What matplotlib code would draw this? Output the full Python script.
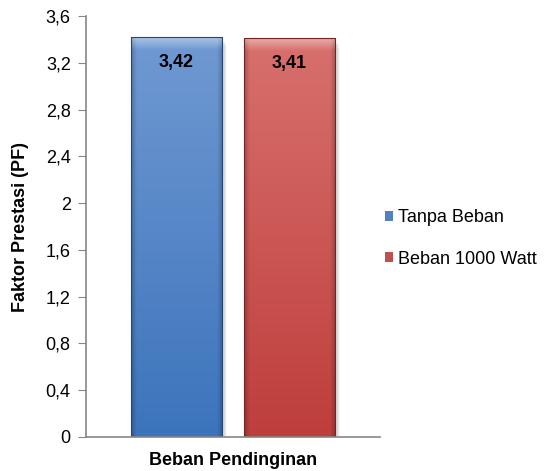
import numpy as np
import matplotlib.pyplot as plt
from matplotlib.patches import Rectangle
from matplotlib.ticker import FuncFormatter, MultipleLocator
from matplotlib.colors import to_rgb

plt.rcParams['font.family'] = ['Liberation Sans', 'DejaVu Sans']

series = ['Tanpa Beban', 'Beban 1000 Watt']
values = [3.42, 3.41]
value_labels = ['3,42', '3,41']
category = 'Beban Pendinginan'

# top / bottom colours of each bar's gradient
top_colors = ['#7099D2', '#D8706D']
bottom_colors = ['#3C74BC', '#BE3E3C']
legend_colors = ['#4F81BD', '#C0504D']

fig = plt.figure(figsize=(5.5, 4.71), dpi=100)
ax = fig.add_axes([0.1564, 0.0722, 0.5345, 0.8938])

width = 0.805
positions = np.arange(len(values))


def gradient_bar(ax, x, h, c_top, c_bot):
    left = x - width / 2
    # soft shadow to the right and below
    for i, a in enumerate([0.12, 0.08, 0.05, 0.03]):
        d = 0.012 * (i + 1)
        ax.add_patch(Rectangle((left + d, -0.02 * (i + 1)), width, h, facecolor='black',
                               edgecolor='none', alpha=a, zorder=1))
    ny, nx = 200, 100
    t = np.linspace(0, 1, ny)[:, None]
    top = np.array(to_rgb(c_top))
    bot = np.array(to_rgb(c_bot))
    img = top[None, None, :] * (1 - t[..., None]) + bot[None, None, :] * t[..., None]
    img = np.repeat(img, nx, axis=1)
    # bevel: lighter top band, darker side edges
    xs = np.linspace(0, 1, nx)
    edge = np.clip(1 - np.minimum(xs, 1 - xs) / 0.06, 0, 1)
    img = img * (1 - 0.22 * edge[None, :, None])
    bev = np.clip(1 - np.linspace(0, 1, ny) / 0.03, 0, 1)
    img = img + (1 - img) * 0.4 * bev[:, None, None]
    img = np.clip(img, 0, 1)
    im = ax.imshow(img, extent=(left, left + width, 0, h), aspect='auto',
                   origin='upper', zorder=2, interpolation='bilinear')
    rect = Rectangle((left, 0), width, h, facecolor='none',
                     edgecolor=np.array(to_rgb(c_bot)) * 0.6, linewidth=0.8, zorder=3)
    ax.add_patch(rect)
    im.set_clip_path(rect)


for x, v, ct, cb in zip(positions, values, top_colors, bottom_colors):
    gradient_bar(ax, x, v, ct, cb)

for x, v, lab in zip(positions, values, value_labels):
    ax.annotate(lab, (x, v), xytext=(0, -18), textcoords='offset points',
                ha='center', va='center', fontsize=13, fontweight='bold', zorder=5)

ax.set_xlim(-0.8, 1.8)
ax.set_ylim(0, 3.6)
ax.yaxis.set_major_locator(MultipleLocator(0.4))
ax.yaxis.set_major_formatter(FuncFormatter(lambda v, p: ('%g' % round(v, 2)).replace('.', ',')))
ax.set_xticks([])

for s in ['top', 'right']:
    ax.spines[s].set_visible(False)
for s in ['left', 'bottom']:
    ax.spines[s].set_color('#868686')
    ax.spines[s].set_linewidth(1.2)
    ax.spines[s].set_zorder(4)
ax.tick_params(axis='y', length=6, color='#868686', labelsize=13, pad=5)

ax.set_ylabel('Faktor Prestasi (PF)', fontsize=13, fontweight='bold', labelpad=12)
ax.set_xlabel(category, fontsize=13, fontweight='bold', labelpad=11)

handles = [Rectangle((0, 0), 1, 1, facecolor=c, edgecolor='none') for c in legend_colors]
fig.legend(handles, series, loc='center left', bbox_to_anchor=(0.67, 0.494),
           frameon=False, fontsize=13, handlelength=0.45, handleheight=0.45,
           handletextpad=0.3, labelspacing=1.35)

fig.savefig('out.png', dpi=100)
